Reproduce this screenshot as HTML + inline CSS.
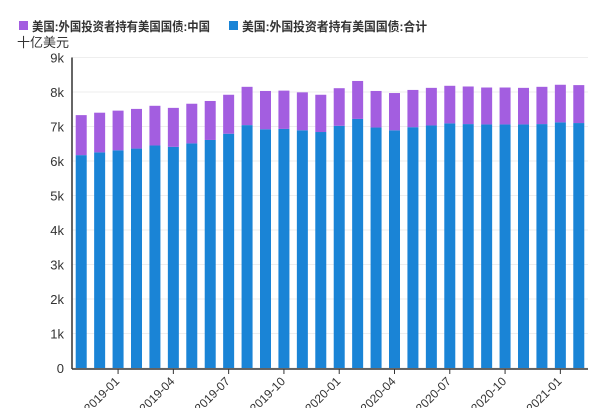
<!DOCTYPE html>
<html><head><meta charset="utf-8"><style>
body{margin:0;background:#fff;font-family:"Liberation Sans","Noto Sans CJK SC",sans-serif}
svg text{font-family:"Liberation Sans","Noto Sans CJK SC",sans-serif}
</style></head><body>
<svg id="c" width="600" height="408">
<rect x="19" y="21" width="9" height="9" fill="#a35ee0"/>
<text x="32" y="31" font-size="12.5" font-weight="bold" fill="#333" textLength="178" lengthAdjust="spacingAndGlyphs">美国:外国投资者持有美国国债:中国</text>
<rect x="229" y="21" width="9" height="9" fill="#1a84d6"/>
<text x="242" y="31" font-size="12.5" font-weight="bold" fill="#333" textLength="185" lengthAdjust="spacingAndGlyphs">美国:外国投资者持有美国国债:合计</text>
<text x="17" y="47" font-size="13" fill="#333">十亿美元</text>
</svg>
<script>
const categories=["2018-11","2018-12","2019-01","2019-02","2019-03","2019-04","2019-05","2019-06","2019-07","2019-08","2019-09","2019-10","2019-11","2019-12","2020-01","2020-02","2020-03","2020-04","2020-05","2020-06","2020-07","2020-08","2020-09","2020-10","2020-11","2020-12","2021-01","2021-02"];
const totalValues=[6.17,6.25,6.31,6.36,6.45,6.41,6.51,6.61,6.79,7.04,6.92,6.93,6.89,6.84,7.02,7.22,6.97,6.89,6.98,7.03,7.09,7.07,7.06,7.06,7.06,7.07,7.12,7.10];
const chinaValues=[1.16,1.15,1.15,1.15,1.15,1.13,1.15,1.13,1.13,1.11,1.11,1.11,1.10,1.08,1.09,1.10,1.06,1.08,1.08,1.09,1.09,1.09,1.07,1.07,1.06,1.08,1.09,1.10];
const yTicks=[0,1,2,3,4,5,6,7,8,9];
const xTickLabels=["2019-01","2019-04","2019-07","2019-10","2020-01","2020-04","2020-07","2020-10","2021-01"];
const NS="http://www.w3.org/2000/svg",svg=document.getElementById('c');
const x0=72,x1=588,y0=368,yTop=57.5;
const y=v=>y0-(v/9)*(y0-yTop);
const step=(x1-x0)/categories.length;
const xc=i=>x0+step*(i+0.5);
function mk(t,a){const e=document.createElementNS(NS,t);for(const k in a)e.setAttribute(k,a[k]);svg.appendChild(e);return e;}
yTicks.forEach(t=>{
 const g=mk('line',{x1:x0,x2:x1,y1:y(t),y2:y(t),stroke:'#eee','stroke-width':1});
 
 
 const l=mk('text',{x:64,y:y(t)+5,'font-size':13,fill:'#333','text-anchor':'end'});
 l.textContent=t===0?'0':t+'k';
 
 
});
categories.forEach((c,i)=>{
 const w=11;
 const b=mk('rect',{x:xc(i)-w/2,y:y(totalValues[i]),width:w,height:y0-y(totalValues[i]),fill:'#1a84d6'});
 
 
 const top=totalValues[i]+chinaValues[i];
 const p=mk('rect',{x:xc(i)-w/2,y:y(top),width:w,height:y(totalValues[i])-y(top),fill:'#a35ee0'});
 
 
});
const ax=mk('line',{x1:x0,x2:x0,y1:yTop,y2:y0+1,stroke:'#333','stroke-width':1.5});


const bx=mk('line',{x1:x0,x2:x1,y1:y0+1,y2:y0+1,stroke:'#333','stroke-width':1.5});


xTickLabels.forEach(lab=>{
 const i=categories.indexOf(lab);const xx=xc(i);
 const tk=mk('line',{x1:xx,x2:xx,y1:y0+1,y2:y0+6,stroke:'#333'});
 
 
 const t=mk('text',{x:xx+2,y:y0+14,'font-size':12,fill:'#333','text-anchor':'end',transform:`rotate(-45 ${xx+2} ${y0+14})`});
 t.textContent=lab;
 
 
});
</script>
</body></html>
